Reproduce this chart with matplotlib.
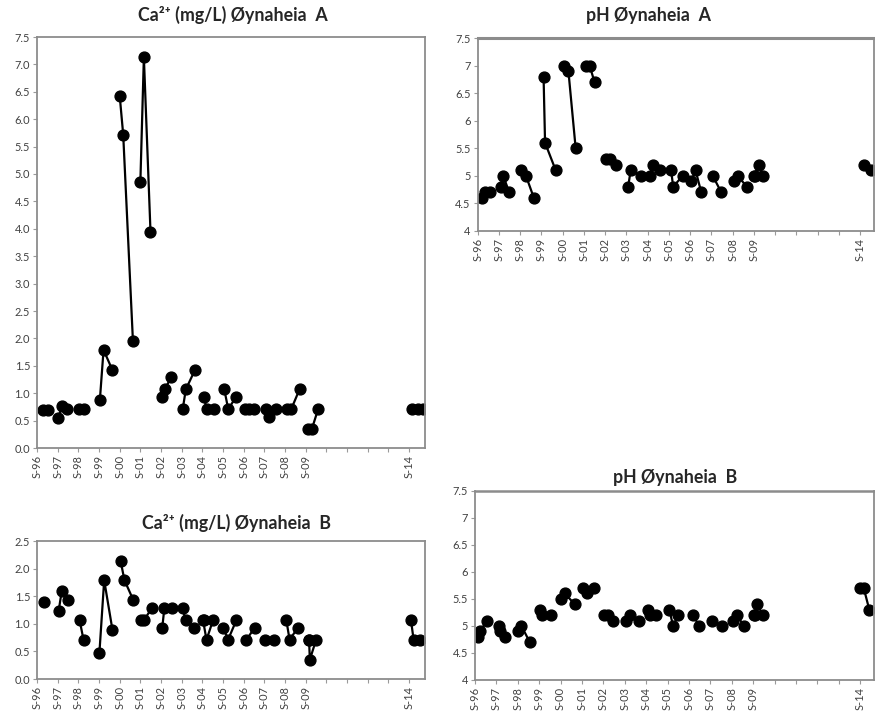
import numpy as np
import matplotlib
matplotlib.use('Agg')
import matplotlib.pyplot as plt

nan = np.nan

# ---- data (decimal year, value); nan separates yearly sampling groups ----
ca_a_x = [1996.30, 1996.55, nan,
          1997.03, 1997.20, 1997.45, nan,
          1998.02, 1998.25, nan,
          1999.04, 1999.22, 1999.65, nan,
          2000.00, 2000.17, 2000.64, nan,
          2001.00, 2001.17, 2001.49, nan,
          2002.04, 2002.20, 2002.50, nan,
          2003.05, 2003.20, 2003.65, nan,
          2004.06, 2004.22, 2004.55, nan,
          2005.06, 2005.25, 2005.63, nan,
          2006.08, 2006.27, 2006.50, nan,
          2007.08, 2007.24, 2007.55, nan,
          2008.09, 2008.30, 2008.70, nan,
          2009.10, 2009.30, 2009.60, nan,
          2014.16, 2014.42, 2014.65]
ca_a_y = [0.70, 0.70, nan,
          0.54, 0.77, 0.71, nan,
          0.71, 0.71, nan,
          0.87, 1.79, 1.42, nan,
          6.43, 5.72, 1.96, nan,
          4.85, 7.13, 3.95, nan,
          0.93, 1.08, 1.30, nan,
          0.71, 1.07, 1.43, nan,
          0.93, 0.71, 0.71, nan,
          1.07, 0.71, 0.93, nan,
          0.71, 0.71, 0.71, nan,
          0.71, 0.57, 0.71, nan,
          0.71, 0.71, 1.07, nan,
          0.35, 0.35, 0.71, nan,
          0.71, 0.71, 0.71]

ca_b_x = [1996.32, nan,
          1997.05, 1997.20, 1997.50, nan,
          1998.06, 1998.25, nan,
          1999.02, 1999.25, 1999.65, nan,
          2000.05, 2000.23, 2000.66, nan,
          2001.02, 2001.18, 2001.55, nan,
          2002.06, 2002.16, 2002.51, nan,
          2003.04, 2003.19, 2003.60, nan,
          2004.03, 2004.20, 2004.52, 2004.06, nan,
          2005.02, 2005.24, 2005.65, nan,
          2006.13, 2006.53, nan,
          2007.02, 2007.45, nan,
          2008.06, 2008.22, 2008.62, nan,
          2009.16, 2009.20, 2009.50, 2009.18, nan,
          2014.09, 2014.22, 2014.52]
ca_b_y = [1.40, nan,
          1.24, 1.60, 1.44, nan,
          1.07, 0.71, nan,
          0.48, 1.79, 0.89, nan,
          2.13, 1.79, 1.43, nan,
          1.07, 1.07, 1.28, nan,
          0.93, 1.28, 1.28, nan,
          1.28, 1.07, 0.93, nan,
          1.07, 0.71, 1.07, 1.07, nan,
          0.93, 0.71, 1.07, nan,
          0.71, 0.93, nan,
          0.71, 0.71, nan,
          1.07, 0.71, 0.93, nan,
          0.71, 0.35, 0.71, 0.71, nan,
          1.07, 0.71, 0.71]

ph_a_x = [1996.19, 1996.34, 1996.60, nan,
          1997.09, 1997.20, 1997.48, nan,
          1998.06, 1998.27, 1998.64, nan,
          1999.10, 1999.17, 1999.67, nan,
          2000.08, 2000.27, 2000.61, nan,
          2001.10, 2001.27, 2001.50, nan,
          2002.05, 2002.23, 2002.52, nan,
          2003.08, 2003.20, 2003.69, nan,
          2004.09, 2004.24, 2004.60, nan,
          2005.10, 2005.20, 2005.65, nan,
          2006.05, 2006.25, 2006.52, nan,
          2007.06, 2007.46, nan,
          2008.08, 2008.24, 2008.66, nan,
          2009.02, 2009.22, 2009.41, 2009.04, nan,
          2014.18, 2014.49]
ph_a_y = [4.6, 4.7, 4.7, nan,
          4.8, 5.0, 4.7, nan,
          5.1, 5.0, 4.6, nan,
          6.8, 5.6, 5.1, nan,
          7.0, 6.9, 5.5, nan,
          7.0, 7.0, 6.7, nan,
          5.3, 5.3, 5.2, nan,
          4.8, 5.1, 5.0, nan,
          5.0, 5.2, 5.1, nan,
          5.1, 4.8, 5.0, nan,
          4.9, 5.1, 4.7, nan,
          5.0, 4.7, nan,
          4.9, 5.0, 4.8, nan,
          5.0, 5.2, 5.0, 5.0, nan,
          5.2, 5.1]

ph_b_x = [1996.15, 1996.25, 1996.55, nan,
          1997.13, 1997.15, 1997.42, nan,
          1998.02, 1998.17, 1998.56, nan,
          1999.03, 1999.12, 1999.57, nan,
          2000.00, 2000.20, 2000.66, nan,
          2001.05, 2001.23, 2001.54, nan,
          2002.05, 2002.20, 2002.45, nan,
          2003.07, 2003.23, 2003.65, nan,
          2004.10, 2004.20, 2004.47, nan,
          2005.08, 2005.26, 2005.50, nan,
          2006.20, 2006.47, nan,
          2007.10, 2007.53, nan,
          2008.05, 2008.23, 2008.58, nan,
          2009.05, 2009.20, 2009.45, 2009.07, nan,
          2014.01, 2014.17, 2014.43]
ph_b_y = [4.8, 4.9, 5.1, nan,
          5.0, 4.9, 4.8, nan,
          4.9, 5.0, 4.7, nan,
          5.3, 5.2, 5.2, nan,
          5.5, 5.6, 5.4, nan,
          5.7, 5.6, 5.7, nan,
          5.2, 5.2, 5.1, nan,
          5.1, 5.2, 5.1, nan,
          5.3, 5.2, 5.2, nan,
          5.3, 5.0, 5.2, nan,
          5.2, 5.0, nan,
          5.1, 5.0, nan,
          5.1, 5.2, 5.0, nan,
          5.2, 5.4, 5.2, 5.2, nan,
          5.7, 5.7, 5.3]

year_ticks = list(range(1996, 2015))
year_labels = ['S-96', 'S-97', 'S-98', 'S-99', 'S-00', 'S-01', 'S-02', 'S-03',
               'S-04', 'S-05', 'S-06', 'S-07', 'S-08', 'S-09', '', '', '', '', 'S-14']

ca_a_yticks = [0.0, 0.5, 1.0, 1.5, 2.0, 2.5, 3.0, 3.5, 4.0, 4.5, 5.0, 5.5, 6.0, 6.5, 7.0, 7.5]
ca_b_yticks = [0.0, 0.5, 1.0, 1.5, 2.0, 2.5]
ph_yticks = [4, 4.5, 5, 5.5, 6, 6.5, 7, 7.5]

titles = ['Ca²⁺ (mg/L) Øynaheia  A', 'pH Øynaheia  A', 'Ca²⁺ (mg/L) Øynaheia  B', 'pH Øynaheia  B']

plt.rcParams['font.family'] = ['Lato', 'DejaVu Sans']

fig = plt.figure(figsize=(8.75, 7.15), dpi=100)
W, H = 875, 715


def make_ax(left, top, right, bottom):
    return fig.add_axes([left / W, 1 - bottom / H, (right - left) / W, (bottom - top) / H])


def style(ax, xs, ys, yticks, ylabels, xmax, top_lw=1.3):
    ax.plot(xs, ys, color='black', lw=1.6, marker='o', ms=7.8,
            markerfacecolor='black', markeredgecolor='black')
    ax.set_xlim(1996.0, xmax)
    ax.set_ylim(yticks[0], yticks[-1])
    ax.set_yticks(yticks)
    ax.set_yticklabels(ylabels)
    ax.set_xticks(year_ticks)
    ax.set_xticklabels(year_labels, rotation=90)
    for s in ax.spines.values():
        s.set_color('#8c8c8c')
        s.set_linewidth(1.3)
    ax.spines['top'].set_linewidth(top_lw)
    ax.tick_params(axis='both', direction='out', length=3, width=0.8,
                   color='#9a9a9a', labelsize=7.9, labelcolor='#404040', pad=2)


ax1 = make_ax(37, 37, 425, 448)
style(ax1, ca_a_x, ca_a_y, ca_a_yticks, ['%.1f' % v for v in ca_a_yticks], 2014.77)

ax2 = make_ax(477.7, 38.3, 874, 230.7)
style(ax2, ph_a_x, ph_a_y, ph_yticks, ['%g' % v for v in ph_yticks], 2014.65, top_lw=2.2)

ax3 = make_ax(37, 541, 425, 679)
style(ax3, ca_b_x, ca_b_y, ca_b_yticks, ['%.1f' % v for v in ca_b_yticks], 2014.77)

ax4 = make_ax(475, 490.7, 874, 680)
style(ax4, ph_b_x, ph_b_y, ph_yticks, ['%g' % v for v in ph_yticks], 2014.65, top_lw=1.8)

title_pos = [(233, 15), (648, 15), (236, 523), (675, 478)]
for t, (tx, ty) in zip(titles, title_pos):
    fig.text(tx / W, 1 - ty / H, t, ha='center', va='center', fontsize=12.8,
             fontweight='bold', color='#262626')

fig.savefig('out.png', dpi=100, facecolor='white')
